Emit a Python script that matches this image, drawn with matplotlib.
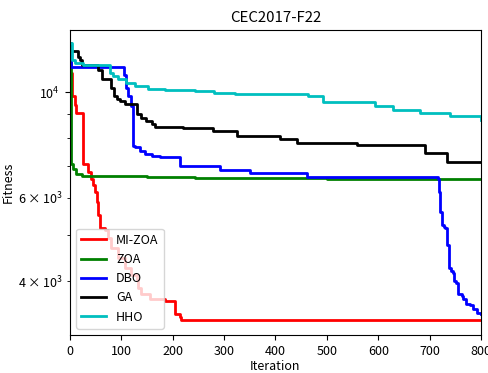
import matplotlib
matplotlib.use('Agg')
import matplotlib.pyplot as plt

plt.rcParams['font.family'] = ['Noto Sans CJK SC', 'DejaVu Sans']
plt.rcParams['font.size'] = 9

# breakpoints (iteration, best fitness); drawn as steps
mizoa_it = [0, 4, 10, 13, 26, 36, 41, 45, 50, 53, 55, 58, 68, 75, 81, 94, 107, 120, 130, 133, 139, 156, 185, 204, 214, 217, 800]
mizoa_val = [11000, 9820, 9400, 9070, 7070, 6800, 6580, 6370, 6170, 5880, 5510, 5170, 5130, 4930, 4690, 4480, 4260, 4130, 4030, 3870, 3750, 3660, 3630, 3407, 3360, 3320, 3320]

zoa_it = [0, 2, 6, 13, 23, 50, 100, 150, 243, 300, 400, 500, 600, 700, 800]
zoa_val = [12600, 7060, 6900, 6740, 6680, 6670, 6650, 6630, 6610, 6600, 6585, 6575, 6568, 6562, 6560]

dbo_it = [0, 3, 106, 110, 113, 120, 122, 123, 126, 136, 146, 159, 175, 214, 292, 350, 461,
          716, 718, 720, 723, 728, 730, 733, 737, 741, 746, 748, 752, 755, 762, 765, 771, 778, 785, 791, 800]
dbo_val = [12300, 11320, 10900, 10200, 9820, 9360, 8370, 7720, 7660, 7540, 7420, 7360, 7300, 7000, 6870, 6760, 6640,
           6578, 6171, 5600, 5256, 5213, 5170, 4773, 4262, 4195, 4162, 4000, 3967, 3749, 3720, 3660, 3572, 3561, 3488, 3433, 3407]

ga_it = [0, 3, 16, 19, 24, 55, 62, 81, 86, 91, 97, 107, 130, 139, 149, 159, 165, 220, 278, 325, 408, 442, 558, 691, 733, 800]
ga_val = [12700, 12200, 11900, 11720, 11440, 11170, 10650, 10230, 9820, 9670, 9590, 9440, 8990, 8850, 8710, 8570, 8440, 8410, 8300, 8090, 7980, 7820, 7750, 7450, 7140, 7140]

hho_it = [0, 4, 10, 26, 78, 84, 94, 110, 126, 152, 185, 243, 280, 321, 463, 492, 593, 628, 681, 739, 800]
hho_val = [12700, 11720, 11540, 11440, 11000, 10820, 10650, 10480, 10310, 10180, 10110, 10060, 9990, 9900, 9810, 9530, 9350, 9170, 9040, 8910, 8740]

names = ['MI-ZOA', 'ZOA', 'DBO', 'GA', 'HHO']
colors = ['r', 'g', 'b', 'k', 'c']
series = [(mizoa_it, mizoa_val), (zoa_it, zoa_val), (dbo_it, dbo_val),
          (ga_it, ga_val), (hho_it, hho_val)]

fig = plt.figure(figsize=(4.88, 3.73), dpi=100)
ax = fig.add_axes([0.143, 0.102, 0.843, 0.818])

for (it, val), name, col in zip(series, names, colors):
    ax.plot(it, val, drawstyle='steps-post', color=col, lw=2, label=name)

ax.set_yscale('log')
ax.set_xlim(0, 800)
ax.set_ylim(3080, 13550)
ax.set_title('CEC2017-F22')
ax.set_xlabel('Iteration', labelpad=2)
ax.set_ylabel('Fitness', labelpad=2)
ax.legend(loc='lower left')

fig.savefig('out.png', dpi=100)
